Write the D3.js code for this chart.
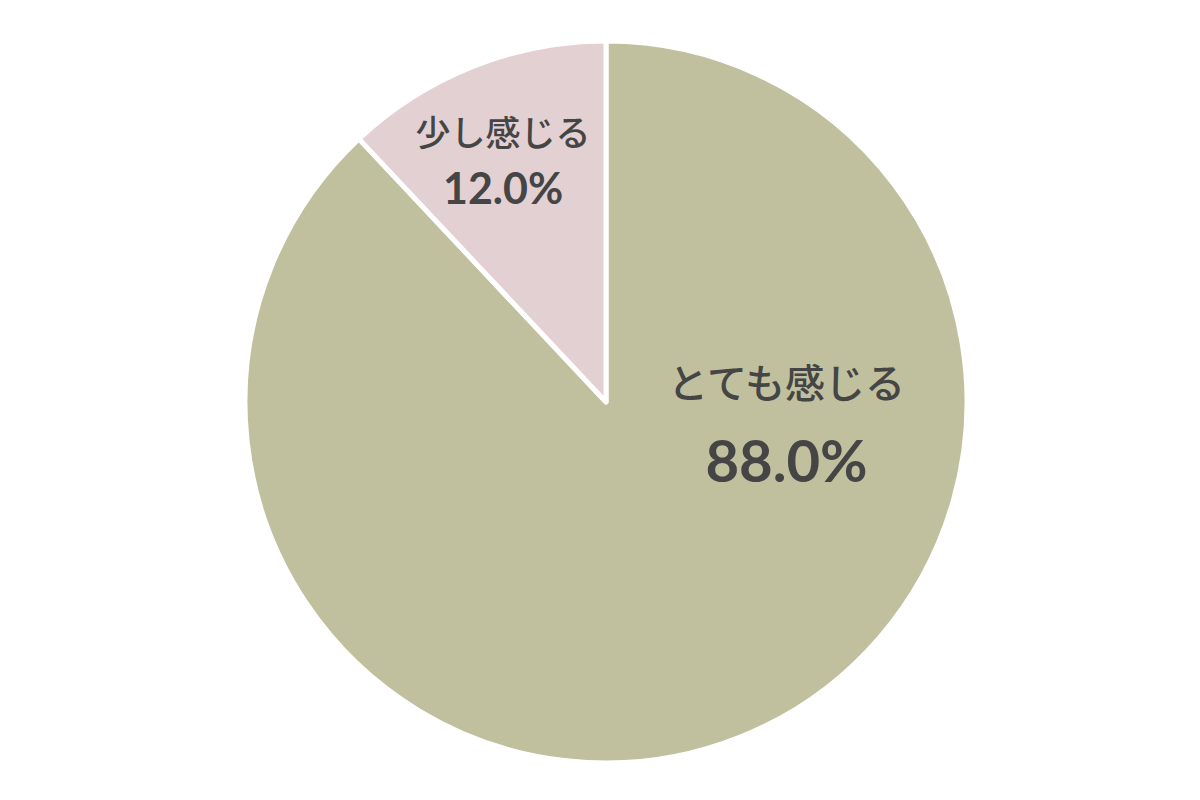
<!DOCTYPE html>
<html>
<head>
<meta charset="utf-8">
<script src="https://cdn.jsdelivr.net/npm/d3@7"></script>
<style>
  body { margin: 0; background: #fff; }
</style>
</head>
<body>
<script>
// data
var labels = ['とても感じる', '少し感じる'];
var values = [88.0, 12.0];
var colors = ['#c0c09f', '#e3d0d2'];

var w = 1200, h = 800;
var cx = 606, cy = 402, r = 361;

var svg = d3.select('body').append('svg')
  .attr('width', w)
  .attr('height', h);

var g = svg.append('g').attr('transform', 'translate(' + cx + ',' + cy + ')');

// first slice runs clockwise from 12 o'clock, so the small one ends up at top-left
var pie = d3.pie().sort(null).value(function(d) { return d; });
var arc = d3.arc().innerRadius(0).outerRadius(r);
var arcs = pie(values);

g.selectAll('.slice').data(arcs)
  .enter()
  .append('path')
  .attr('d', arc)
  .attr('fill', function(d, i) { return colors[i]; })
  .attr('stroke', '#fff')
  .attr('stroke-width', 5)
  .attr('stroke-linejoin', 'round')
  .classed('slice', true);

// label anchors, as a fraction of the radius from the centre
var labelPos = [[0.50, -0.01], [-0.285, -0.71]];
var nameSize = [40, 35];
var valSize = [58, 43];
var gap = [84, 58];

arcs.forEach(function(d, i) {
  var x = labelPos[i][0] * r;
  var y = labelPos[i][1] * r;
  g.append('text')
    .attr('x', x)
    .attr('y', y)
    .attr('text-anchor', 'middle')
    .style('font-family', '"Noto Sans CJK JP", sans-serif')
    .style('font-weight', 500)
    .style('font-size', nameSize[i] + 'px')
    .style('fill', '#454545')
    .text(labels[i]);
  g.append('text')
    .attr('x', x)
    .attr('y', y + gap[i])
    .attr('text-anchor', 'middle')
    .style('font-family', 'Lato, sans-serif')
    .style('font-weight', 700)
    .style('font-size', valSize[i] + 'px')
    .style('fill', '#454545')
    .text(values[i].toFixed(1) + '%');
});
</script>
</body>
</html>
